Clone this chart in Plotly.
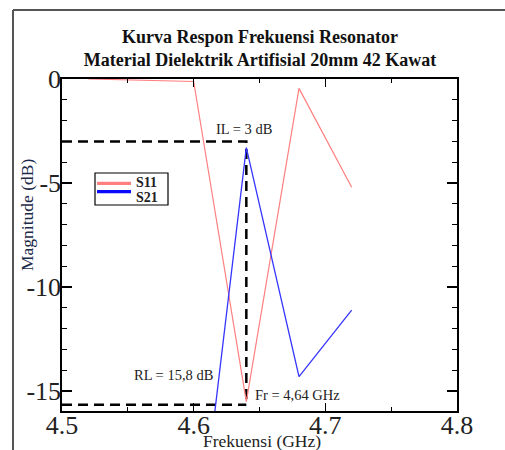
import plotly.graph_objects as go

# ---- data ----
freq_s11 = [4.52, 4.56, 4.60, 4.64, 4.68, 4.72]
s11_db = [0.0, -0.05, -0.12, -15.5, -0.45, -5.2]

freq_s21 = [4.60, 4.64, 4.68, 4.72]
s21_db = [-24.5, -3.3, -14.3, -11.1]

IL_DB = -3.0          # insertion loss marker level
RL_DB = -15.65        # return loss marker level
FR_GHZ = 4.64         # resonance frequency

x_ticks = [4.5, 4.6, 4.7, 4.8]
y_ticks = [0, -5, -10, -15]
X_RANGE = [4.5, 4.8]
Y_RANGE = [-15.95, 0.0]

series_names = ["S11", "S21"]
title_lines = ["Kurva Respon Frekuensi Resonator",
               "Material Dielektrik Artifisial 20mm 42 Kawat"]

SERIF = "Liberation Serif, Times New Roman, serif"
RED = "#ff8080"
BLUE = "#3535ff"
LEG_COLORS = ["#ff8080", "#0a0aff"]

fig = go.Figure()

# dashed marker lines
fig.add_trace(go.Scatter(x=[X_RANGE[0], FR_GHZ, FR_GHZ], y=[IL_DB, IL_DB, RL_DB],
                         mode="lines", line=dict(color="black", width=2.5, dash="10px,6px"),
                         showlegend=False, hoverinfo="skip"))
fig.add_trace(go.Scatter(x=[X_RANGE[0], FR_GHZ], y=[RL_DB, RL_DB],
                         mode="lines", line=dict(color="black", width=2.5, dash="10px,6px"),
                         showlegend=False, hoverinfo="skip"))

# data series
fig.add_trace(go.Scatter(x=freq_s11, y=s11_db, mode="lines", name=series_names[0],
                         line=dict(color=RED, width=1.2), showlegend=False))
fig.add_trace(go.Scatter(x=freq_s21, y=s21_db, mode="lines", name=series_names[1],
                         line=dict(color=BLUE, width=1.3), showlegend=False))

axis_common = dict(showline=True, linecolor="black", linewidth=1.5, mirror="allticks",
                   ticks="inside", tickcolor="black", showgrid=False, zeroline=False,
                   automargin=False,
                   tickfont=dict(family=SERIF, size=26, color="#222"))

fig.update_xaxes(range=X_RANGE, tickvals=x_ticks, ticktext=[f"{v:.1f}" for v in x_ticks],
                 ticklen=8, tickwidth=1.3, ticklabelstandoff=-10,
                 minor=dict(ticks="inside", dtick=0.05, ticklen=4, tickcolor="black", tickwidth=1),
                 **axis_common)
fig.update_yaxes(range=Y_RANGE, tickvals=y_ticks, ticktext=[str(v) for v in y_ticks],
                 ticklen=10, tickwidth=1.5, ticklabelstandoff=-6,
                 minor=dict(ticks="inside", dtick=1, ticklen=5, tickcolor="black", tickwidth=1),
                 **axis_common)

W, H = 505, 450
L, R, T, B = 62, 48, 79, 39
pw, ph = W - L - R, H - T - B

def px_x(px):
    return (px - L) / pw

def px_y(py):
    return (H - B - py) / ph

note_font = dict(family=SERIF, size=14.5, color="#222")
annotations = [
    dict(text="IL = 3 dB", x=4.638, y=-2.42, xref="x", yref="y", showarrow=False,
         xanchor="center", yanchor="middle", font=note_font),
    dict(text="RL = 15,8 dB", x=4.5845, y=-14.23, xref="x", yref="y", showarrow=False,
         xanchor="center", yanchor="middle", font=note_font),
    dict(text="Fr = 4,64 GHz", x=4.679, y=-15.19, xref="x", yref="y", showarrow=False,
         xanchor="center", yanchor="middle", font=note_font),
    dict(text="Frekuensi (GHz)", x=px_x(262), y=px_y(440.5), xref="paper", yref="paper",
         xanchor="center", yanchor="middle",
         showarrow=False, font=dict(family=SERIF, size=17.5, color="#222")),
    dict(text="Magnitude (dB)", x=px_x(27), y=px_y(215), xref="paper", yref="paper",
         xanchor="center", yanchor="middle",
         showarrow=False, textangle=-90, font=dict(family=SERIF, size=17.5, color="#1c2a48")),
]

# hand-drawn legend box (compact, as in the reference)
leg_font = dict(family=SERIF, size=14, color="#222")
leg_line_y = [183.3, 191.7]
leg_text_y = [182, 197]
shapes = [
    dict(type="line", xref="paper", yref="paper", x0=px_x(13), x1=px_x(13),
         y0=px_y(10), y1=px_y(452), line=dict(color="#555", width=2)),
    dict(type="line", xref="paper", yref="paper", x0=px_x(13), x1=px_x(507),
         y0=px_y(10), y1=px_y(10), line=dict(color="#555", width=2)),
    dict(type="rect", xref="paper", yref="paper", x0=px_x(95), x1=px_x(168),
         y0=px_y(173), y1=px_y(205), line=dict(color="black", width=1.2),
         fillcolor="white", layer="above"),
]
for name, col, ly, ty in zip(series_names, LEG_COLORS, leg_line_y, leg_text_y):
    shapes.append(dict(type="line", xref="paper", yref="paper", x0=px_x(97), x1=px_x(131),
                       y0=px_y(ly), y1=px_y(ly), line=dict(color=col, width=3.3),
                       layer="above"))
    annotations.append(dict(text=f"<b>{name}</b>", x=px_x(134), y=px_y(ty),
                            xref="paper", yref="paper", xanchor="left", yanchor="middle",
                            showarrow=False, font=leg_font))

fig.update_layout(
    width=W, height=H,
    margin=dict(l=L, r=R, t=T, b=B, autoexpand=False),
    paper_bgcolor="white", plot_bgcolor="white",
    title=dict(text="<b>" + "<br>".join(title_lines) + "</b>",
               x=px_x(260), xanchor="center", xref="paper",
               y=1 - 43 / H, yanchor="top", yref="container", automargin=False,
               font=dict(family=SERIF, size=18, color="#111")),
    annotations=annotations,
    shapes=shapes,
    showlegend=False,
)

fig.write_html("out.html", config={"displayModeBar": False},
               post_script="document.body.style.margin='0';document.body.style.padding='0';")
